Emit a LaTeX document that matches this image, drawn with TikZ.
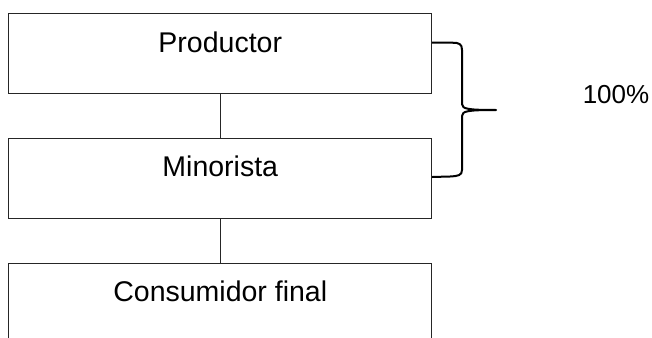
\documentclass[tikz,border=0pt]{standalone}
\usepackage{fontspec}
\setmainfont{Liberation Sans}
\usepackage{xcolor}
\usepackage{tikz}
\usetikzlibrary{calc}
\definecolor{ink}{HTML}{262626}

\begin{document}
\begin{tikzpicture}[x=1pt,y=-1pt,
  stage/.style={draw=ink,line width=0.9pt,rectangle,minimum width=423pt,inner sep=0pt,
    text height=38.5pt,text depth=41.5pt,font=\fontsize{28.5}{34}\selectfont},
  link/.style={draw=ink,line width=0.9pt},
  brace/.style={draw=black,line width=2pt,line join=round}]
\useasboundingbox (0,0) rectangle (652,337);
\clip (0,0) rectangle (652,337);
\node[stage,anchor=north west] (prod) at (8.3,13.3) {Productor};
\node[stage,anchor=north west] (mino) at (8.3,137.7) {Minorista};
\node[stage,anchor=north west] (cons) at (8.3,263) {Consumidor final};
\draw[link] (prod.south) -- (mino.north);
\draw[link] (mino.south) -- (cons.north);
% brace over the first two stages
\coordinate (tip) at (496,110);
\draw[brace] ([yshift=-29.4pt]prod.north east) -- ++(20,0)
  .. controls +(7,0) and (462,44) .. (462,50) -- (462,104)
  .. controls (462,109) and (468,110) .. (tip)
  .. controls (468,110) and (462,111) .. (462,116) -- (462,170)
  .. controls (462,175.5) and (458,176) .. (450,176.5)
  -- ([yshift=-39.3pt]mino.north east);
\node[font=\fontsize{26}{31}\selectfont] (pct) at (616,95) {100\%};
\end{tikzpicture}
\end{document}
